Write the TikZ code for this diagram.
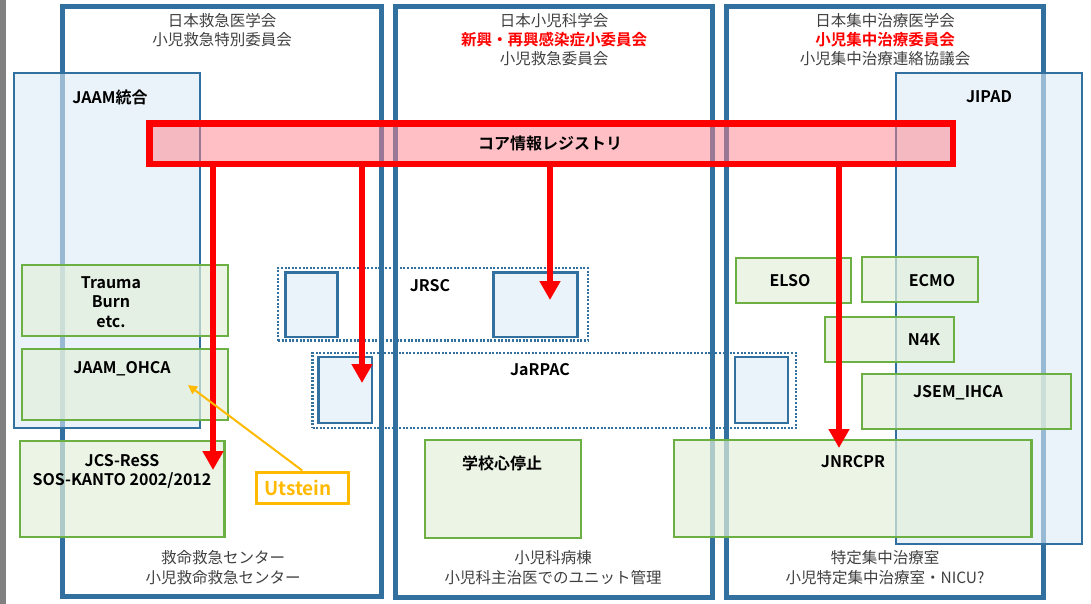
\documentclass[tikz,border=0pt]{standalone}
\usepackage{fontspec}
\setmainfont{Noto Sans CJK JP}[BoldFont={Noto Sans CJK JP Bold}]
\usetikzlibrary{arrows.meta,fit}
\definecolor{colblue}{HTML}{31709F}
\definecolor{lightblue}{HTML}{DDEBF7}
\definecolor{smallfill}{HTML}{EAF2FA}
\definecolor{grn}{HTML}{6CB043}
\definecolor{grnfill}{HTML}{E2EFDA}
\definecolor{pinkfill}{HTML}{FF808C}
\definecolor{hdrgray}{HTML}{404040}
\definecolor{orng}{HTML}{FFBA00}
\definecolor{sidegray}{HTML}{808080}
\tikzset{
 colbox/.style={draw=colblue, line width=5pt, inner sep=0pt},
 regbox/.style={draw=colblue, line width=2.5pt, fill=lightblue, fill opacity=0.6, inner sep=0pt},
 dotbox/.style={draw=colblue, line width=2.5pt, dash pattern=on 2pt off 1.6pt, inner sep=0pt},
 smallbox/.style={draw=colblue, line width=2.5pt, fill=smallfill, inner sep=0pt},
 greenbox/.style={draw=grn, line width=2.5pt, fill=grnfill, fill opacity=0.7, inner sep=0pt},
 corebox/.style={draw=red, line width=6.5pt, fill=pinkfill, fill opacity=0.5, inner sep=0pt},
 lbl/.style={font=\bfseries\fontsize{16}{19}\selectfont, text=black, inner sep=0pt, align=center},
 hdr/.style={font=\fontsize{15.5}{19.3}\selectfont, text=hdrgray, inner sep=0pt, align=center},
 redhdr/.style={font=\bfseries\fontsize{15.5}{19.3}\selectfont, text=red, inner sep=0pt},
 redarrow/.style={draw=red, line width=5.5pt, -{Triangle[width=20pt,length=19pt]}},
 orarrow/.style={draw=orng, line width=2pt, -{Triangle[width=9pt,length=9pt]}},
}
\begin{document}
\begin{tikzpicture}[x=1pt,y=-1pt]
\useasboundingbox (0,0) rectangle (1091,604);
\fill[sidegray] (0,0) rectangle (6,604);

% columns
\node[colbox, fit={(62.5,7) (381,596)}] (c1) {};
\node[colbox, fit={(395.5,7) (712,597)}] (c2) {};
\node[colbox, fit={(726.5,7) (1043,597)}] (c3) {};

% headers
\node[hdr] (h1a) at (222,20.5) {日本救急医学会};
\node[hdr] (h1b) at (222,40) {小児救急特別委員会};
\node[hdr] (h2a) at (554,20.5) {日本小児科学会};
\node[redhdr] (h2b) at (554,40) {新興・再興感染症小委員会};
\node[hdr] (h2c) at (554,59) {小児救急委員会};
\node[hdr] (h3a) at (885,20.5) {日本集中治療医学会};
\node[redhdr] (h3b) at (885,40) {小児集中治療委員会};
\node[hdr] (h3c) at (885,59) {小児集中治療連絡協議会};

% footers
\node[hdr] (f1a) at (223,558) {救命救急センター};
\node[hdr] (f1b) at (223,578) {小児救命救急センター};
\node[hdr] (f2a) at (553,558) {小児科病棟};
\node[hdr] (f2b) at (553,578) {小児科主治医でのユニット管理};
\node[hdr] (f3a) at (885,558) {特定集中治療室};
\node[hdr] (f3b) at (885,578) {小児特定集中治療室・NICU?};

% registry boxes
\node[regbox, fit={(14,73) (200,428)}] (jaam) {};
\node[lbl] (jaamt) at (110,97) {JAAM統合};
\node[regbox, fit={(896,73) (1082,544)}] (jipad) {};
\node[lbl] (jipadt) at (989,97) {JIPAD};

% dotted groups
\node[dotbox, fit={(278,268) (588,340.5)}] (jrsc) {};
\node[smallbox, fit={(285.5,272.5) (337.5,337)}] (jrsc1) {};
\node[smallbox, fit={(493.5,272.5) (577.5,337)}] (jrsc2) {};
\node[lbl] (jrsct) at (430,286) {JRSC};
\node[dotbox, fit={(312.5,353) (796,428)}] (jarpac) {};
\node[smallbox, fit={(318.5,357) (372,423)}] (jarpac1) {};
\node[smallbox, fit={(735,357) (788,423)}] (jarpac2) {};
\node[lbl] (jarpact) at (540,370) {JaRPAC};

% green boxes
\node[greenbox, fit={(22,265) (228,336)}] (trauma) {};
\node[lbl, font=\bfseries\fontsize{16}{19.5}\selectfont] (traumat) at (111,302) {Trauma\\Burn\\etc.};
\node[greenbox, fit={(22,349) (228,420)}] (ohca) {};
\node[lbl] (ohcat) at (122,369) {JAAM\_OHCA};
\node[greenbox, fit={(20,441) (224.5,537)}] (jcs) {};
\node[lbl] (jcst) at (122,471.5) {JCS-ReSS\\SOS-KANTO 2002/2012};
\node[greenbox, fit={(425,440) (581,538)}] (school) {};
\node[lbl] (schoolt) at (502,463) {学校心停止};
\node[greenbox, fit={(674,440) (1031.5,537)}] (jnrcpr) {};
\node[lbl] (jnrcprt) at (853,462) {JNRCPR};
\node[greenbox, fit={(736,258) (851,303)}] (elso) {};
\node[lbl] (elsot) at (790,281) {ELSO};
\node[greenbox, fit={(862,257) (978,302)}] (ecmo) {};
\node[lbl] (ecmot) at (932,281) {ECMO};
\node[greenbox, fit={(825,317) (954,362)}] (n4k) {};
\node[lbl] (n4kt) at (924,340) {N4K};
\node[greenbox, fit={(862,374) (1071,429)}] (jsem) {};
\node[lbl] (jsemt) at (958,393) {JSEM\_IHCA};

% core registry
\node[corebox, fit={(149.5,123.5) (953,164)}] (core) {};
\node[lbl] (coret) at (550,143) {コア情報レジストリ};

% red arrows
\coordinate (t1) at (213,470);
\coordinate (t2) at (362,383);
\coordinate (t3) at (550,300);
\coordinate (t4) at (839,448);
\draw[redarrow] (core.south -| t1) -- (t1);
\draw[redarrow] (core.south -| t2) -- (t2);
\draw[redarrow] (core.south -| t3) -- (t3);
\draw[redarrow] (core.south -| t4) -- (t4);

% Utstein
\node[draw=orng, line width=3pt, fill=white, inner sep=0pt, fit={(256,472) (348.5,503)}] (ut) {};
\node[font=\bfseries\fontsize{19}{22}\selectfont, text=orng, inner sep=0pt] (utt) at (298,488) {Utstein};
\coordinate (ohcatip) at (188,385);
\draw[orarrow] (ut.north) -- (ohcatip);
\end{tikzpicture}
\end{document}
